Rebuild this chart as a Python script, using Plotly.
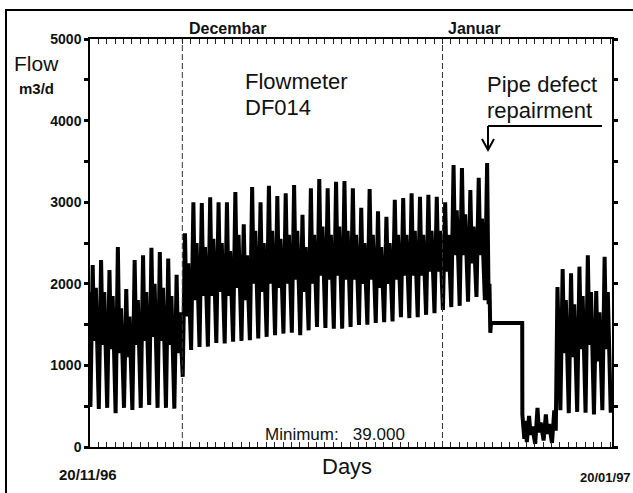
import plotly.graph_objects as go

# ---------------- data ----------------
# day index 0 = 20/11/96
days = list(range(62))

# nightly minimum before each day's peak (m3/d)
trough = [490, 465, 480, 415, 480, 455, 480, 515, 480, 480, 470, 860,
          1190, 1225, 1230, 1275, 1270, 1290, 1300, 1310, 1330, 1350, 1370, 1390,
          1400, 1370, 1430, 1470, 1460, 1450, 1450, 1470, 1495, 1500, 1520, 1530,
          1540, 1590, 1580, 1590, 1620, 1640, 1680, 1715, 1730, 1780, 1840, 1800,
          None, None, None, None,
          60, 39, 80, 50,
          450, 415, 430, 420, 400, 450]

# daily maximum (m3/d)
peak = [2230, 2290, 2170, 2450, 1935, 2290, 2350, 2440, 2390, 2310, 2110, 2620,
        3000, 2990, 3060, 3000, 3000, 3125, 2730, 3185, 3000, 3200, 3075, 3110,
        3210, 2845, 3170, 3285, 3170, 3250, 3260, 3170, 2930, 3160, 2890, 2820,
        3030, 3050, 3110, 3065, 3090, 3065, 3000, 3455, 3420, 3150, 3300, 3480,
        None, None, None, None,
        380, 480, 400, 450,
        2180, 2130, 2210, 2350, 1910, 2330]

# afternoon dip after the peak (m3/d)
dip = [1300, 1250, 1200, 1150, 1100, 1250, 1300, 1350, 1300, 1250, 1150, 1600,
       1800, 1850, 1850, 1900, 1850, 1950, 1800, 2000, 1900, 2000, 1950, 2000,
       2050, 1900, 2000, 2100, 2050, 2100, 2050, 2050, 2000, 2050, 1950, 2000,
       2050, 2100, 2100, 2100, 2150, 2150, 2150, 2350, 2350, 2250, 2350, None,
       None, None, None, None,
       150, 180, 160, 200,
       1150, 1100, 1200, 1250, 1050, 1200]

# evening shoulder of each day (m3/d)
evening = [1950, 1900, 1850, 1700, 1600, 1800, 1900, 2000, 1950, 1850, 1650, 2250,
           2500, 2450, 2550, 2500, 2400, 2600, 2350, 2650, 2500, 2650, 2550, 2600,
           2650, 2450, 2600, 2700, 2600, 2700, 2650, 2600, 2500, 2600, 2450, 2500,
           2600, 2600, 2650, 2600, 2650, 2650, 2600, 2900, 2850, 2700, 2800, None,
           None, None, None, None,
           250, 300, 280, 1960,
           1800, 1750, 1850, 1900, 1650, 1900]

start_value = 1900
end_value = 420

# pipe defect repair period: time (days) and flow
repair_t = [47.5, 47.6, 47.7, 47.78, 51.5, 51.52, 51.75, 51.9]
repair_v = [1750, 2000, 1400, 1520, 1520, 400, 100, 320]

month_lines = [11, 42]          # 01/12/96 and 01/01/97
y_ticks = [0, 500, 1000, 1500, 2000, 2500, 3000, 3500, 4000, 4500, 5000]
y_labels = ["0", "", "1000", "", "2000", "", "3000", "", "4000", "", "5000"]

# ---------------- build the series ----------------
t = [0.0]
v = [start_value]
for d in days:
    if peak[d] is None:
        continue
    t += [d + 0.05, d + 0.32]
    v += [trough[d], peak[d]]
    if evening[d] is not None:
        t += [d + 0.5, d + 0.7]
        v += [dip[d], evening[d]]
    else:
        t += repair_t
        v += repair_v
t.append(62.05)
v.append(end_value)

FONT = "Liberation Sans, Arial, sans-serif"

fig = go.Figure()
fig.add_trace(go.Scatter(x=t, y=v, mode="lines",
                         line=dict(color="black", width=4),
                         hoverinfo="skip", showlegend=False))

# pixel -> paper helpers (plot area: x 90..612, y 39..447)
def px(x):
    return (x - 90) / 522.0

def py(y):
    return (447 - y) / 408.0

shapes = []
for m in month_lines:
    shapes.append(dict(type="line", xref="x", yref="y", x0=m, x1=m, y0=0, y1=5000,
                       line=dict(color="#333", width=1, dash="6px,3px")))
# arrow for pipe defect
shapes.append(dict(type="line", xref="paper", yref="paper", x0=px(602), x1=px(488),
                   y0=py(126), y1=py(126), line=dict(color="black", width=2)))
shapes.append(dict(type="line", xref="paper", yref="paper", x0=px(488), x1=px(488),
                   y0=py(126), y1=py(150), line=dict(color="black", width=2)))
shapes.append(dict(type="path", xref="paper", yref="paper",
                   path=f"M {px(482)} {py(139)} L {px(488)} {py(150)} L {px(494)} {py(139)}",
                   line=dict(color="black", width=2)))
# outer frame
shapes.append(dict(type="rect", xref="paper", yref="paper", x0=px(6), x1=px(660),
                   y0=py(10), y1=py(520), line=dict(color="black", width=2)))

def ann(text, x, y, size, bold=False, xanchor="center"):
    return dict(text=text, x=px(x), y=py(y), xref="paper", yref="paper",
                xanchor=xanchor, yanchor="middle", showarrow=False,
                font=dict(family=FONT, size=size, color="#111",
                          weight="bold" if bold else "normal"))

annotations = [
    ann("Decembar", 227, 28, 16, True),
    ann("Januar", 474, 28, 16, True),
    ann("Flow", 36, 63, 21),
    ann("m3/d", 36, 88, 15, True),
    ann("Flowmeter", 243, 82, 22, xanchor="left"),
    ann("DF014", 243, 108, 22, xanchor="left"),
    ann("Pipe defect", 485, 84, 22, xanchor="left"),
    ann("repairment", 485, 110, 22, xanchor="left"),
    ann("Minimum:\u00a0\u00a0 39.000", 335, 434, 17),
    ann("Days", 347, 466, 22),
    ann("20/11/96", 88, 474, 15, True),
    ann("20/01/97", 578, 477, 13, True, xanchor="left"),
]

fig.update_layout(
    width=633, height=493,
    margin=dict(l=90, r=21, t=39, b=46),
    paper_bgcolor="white", plot_bgcolor="white",
    shapes=shapes, annotations=annotations,
    xaxis=dict(range=[0, 62.2], showline=True, linecolor="black", linewidth=1.5,
               mirror="ticks", ticks="inside", tick0=0, dtick=1, ticklen=5,
               tickwidth=1, tickcolor="#222", showticklabels=False,
               showgrid=False, zeroline=False),
    yaxis=dict(range=[0, 5000], showline=True, linecolor="black", linewidth=1.5,
               mirror="ticks", ticks="outside", tickvals=y_ticks, ticktext=y_labels,
               ticklen=4, tickwidth=3, tickcolor="black", showgrid=False,
               zeroline=False,
               tickfont=dict(family=FONT, size=14, color="#111", weight="bold")),
)

fig.write_html("out.html")
